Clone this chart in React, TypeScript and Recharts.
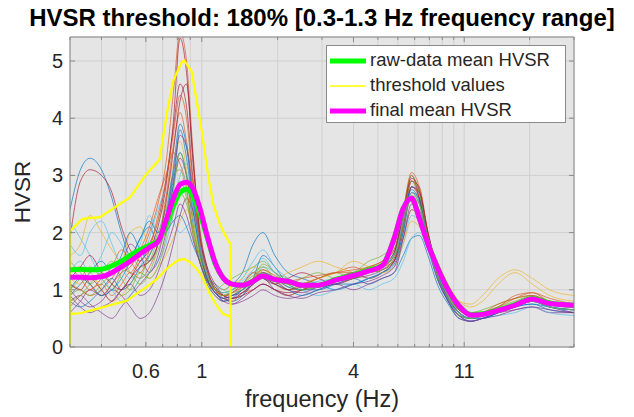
import React from 'react';
import { LineChart, Line, XAxis, YAxis, CartesianGrid, Legend } from 'recharts';

// ---------- data ----------
const FREQ = [0.3, 0.33, 0.36, 0.4, 0.44, 0.48, 0.52, 0.57, 0.62, 0.67, 0.72, 0.77, 0.82, 0.87, 0.92, 0.98, 1.05, 1.13, 1.22, 1.32, 1.45, 1.6, 1.75, 1.95, 2.2, 2.5, 2.9, 3.4, 4.0, 4.6, 5.2, 5.8, 6.3, 6.8, 7.3, 7.9, 8.6, 9.5, 10.5, 11.7, 13, 15, 17.5, 20.5, 24, 30];

const hvsr01 = [2.4, 3.1, 3.3, 3.1, 2.6, 2.0, 1.6, 1.9, 2.1, 1.8, 2.2, 2.9, 3.4, 3.0, 2.2, 1.5, 1.2, 1.1, 1.0, 1.1, 1.3, 1.8, 2.0, 1.6, 1.3, 1.2, 1.1, 1.0, 1.1, 1.2, 1.3, 1.5, 2.0, 2.8, 2.7, 2.0, 1.4, 1.0, 0.7, 0.55, 0.5, 0.6, 0.7, 0.8, 0.7, 0.65];
const hvsr02 = [1.9, 2.9, 3.1, 3.0, 2.7, 2.1, 1.7, 1.5, 1.8, 2.2, 2.9, 3.8, 4.6, 4.2, 3.0, 1.9, 1.3, 1.0, 0.9, 0.95, 1.1, 1.3, 1.2, 1.1, 1.2, 1.3, 1.2, 1.1, 1.2, 1.3, 1.4, 1.6, 2.3, 3.0, 2.6, 1.8, 1.3, 0.9, 0.6, 0.5, 0.55, 0.65, 0.75, 0.85, 0.8, 0.7];
const hvsr03 = [1.1, 1.0, 0.9, 1.0, 1.2, 1.4, 1.3, 1.6, 2.0, 2.5, 3.2, 4.4, 5.5, 5.0, 3.5, 2.0, 1.2, 0.9, 0.8, 0.9, 1.0, 1.2, 1.3, 1.2, 1.0, 1.1, 1.2, 1.3, 1.4, 1.3, 1.4, 1.5, 2.2, 2.9, 2.8, 2.0, 1.4, 1.0, 0.65, 0.55, 0.6, 0.7, 0.9, 0.95, 0.8, 0.75];
const hvsr04 = [1.6, 1.8, 2.3, 2.0, 1.7, 1.5, 2.0, 2.1, 1.8, 2.2, 2.6, 3.2, 3.6, 3.1, 2.3, 1.6, 1.2, 1.0, 0.9, 1.0, 1.1, 1.2, 1.3, 1.2, 1.3, 1.4, 1.5, 1.4, 1.3, 1.2, 1.3, 1.5, 1.9, 2.4, 2.3, 1.9, 1.5, 1.1, 0.8, 0.7, 0.8, 1.1, 1.3, 1.1, 0.9, 0.8];
const hvsr05 = [0.8, 0.9, 0.75, 0.6, 0.5, 0.7, 0.9, 1.1, 1.3, 1.5, 2.0, 2.8, 3.3, 3.0, 2.4, 1.8, 1.3, 1.0, 0.8, 0.85, 0.9, 1.1, 1.2, 1.0, 0.9, 1.0, 1.1, 1.2, 1.3, 1.2, 1.3, 1.5, 2.2, 2.9, 2.7, 1.9, 1.3, 0.8, 0.55, 0.45, 0.5, 0.6, 0.7, 0.8, 0.7, 0.65];
const hvsr06 = [1.0, 1.2, 1.4, 1.2, 1.0, 1.3, 1.6, 1.4, 1.5, 1.9, 2.1, 2.5, 2.7, 2.5, 2.1, 1.6, 1.2, 1.0, 1.1, 1.2, 1.3, 1.4, 1.5, 1.3, 1.2, 1.1, 1.2, 1.3, 1.2, 1.3, 1.4, 1.6, 2.1, 2.6, 2.5, 1.8, 1.3, 0.9, 0.65, 0.6, 0.65, 0.75, 0.85, 0.9, 0.75, 0.7];
const hvsr07 = [1.3, 1.5, 1.3, 1.6, 2.0, 1.8, 1.5, 1.8, 2.3, 2.0, 2.4, 2.2, 2.0, 2.1, 2.2, 1.8, 1.3, 1.1, 1.0, 0.9, 1.0, 1.1, 1.4, 1.3, 1.1, 1.0, 1.1, 1.0, 1.1, 1.2, 1.3, 1.4, 1.8, 2.3, 2.2, 1.7, 1.2, 0.8, 0.6, 0.5, 0.55, 0.65, 0.75, 0.8, 0.7, 0.6];
const hvsr08 = [0.9, 1.1, 1.3, 1.5, 1.3, 1.6, 2.0, 1.7, 1.5, 1.8, 2.3, 2.8, 3.8, 3.3, 2.5, 1.7, 1.2, 0.95, 0.85, 0.8, 0.9, 1.2, 1.6, 1.4, 1.1, 1.0, 1.0, 1.1, 1.2, 1.1, 1.2, 1.3, 1.6, 1.9, 1.95, 1.6, 1.1, 0.75, 0.5, 0.45, 0.5, 0.6, 0.7, 0.75, 0.65, 0.6];
const hvsr09 = [0.7, 0.9, 1.0, 1.1, 0.9, 1.1, 1.3, 1.2, 1.4, 1.8, 2.6, 3.5, 4.1, 3.6, 2.8, 1.9, 1.3, 1.0, 0.85, 0.8, 0.95, 1.0, 1.1, 1.0, 0.9, 1.0, 1.1, 1.2, 1.3, 1.4, 1.5, 1.7, 2.3, 2.9, 2.6, 1.9, 1.3, 0.9, 0.6, 0.5, 0.55, 0.6, 0.7, 0.8, 0.75, 0.7];
const hvsr10 = [1.2, 1.1, 1.3, 1.0, 0.8, 0.9, 1.1, 1.3, 1.2, 1.4, 1.6, 1.9, 2.2, 2.4, 2.1, 1.7, 1.3, 1.1, 1.0, 1.1, 1.2, 1.4, 1.3, 1.1, 1.0, 1.1, 1.2, 1.3, 1.5, 1.4, 1.3, 1.4, 1.8, 2.2, 2.1, 1.8, 1.4, 1.0, 0.8, 0.75, 0.9, 1.2, 1.35, 1.2, 1.0, 0.9];
const hvsr11 = [1.0, 0.8, 0.7, 0.8, 1.0, 0.9, 0.7, 0.5, 0.6, 0.9, 1.3, 1.8, 2.3, 2.6, 2.4, 1.9, 1.4, 1.1, 0.9, 0.75, 0.8, 0.9, 1.0, 0.9, 0.85, 0.9, 1.0, 1.1, 1.0, 1.1, 1.2, 1.3, 1.9, 2.5, 2.4, 1.8, 1.2, 0.8, 0.55, 0.5, 0.55, 0.6, 0.65, 0.7, 0.6, 0.6];
const hvsr12 = [1.5, 1.3, 1.1, 1.3, 1.5, 1.2, 1.0, 1.2, 1.6, 2.0, 2.4, 3.0, 3.1, 2.7, 2.1, 1.6, 1.2, 1.0, 0.95, 1.0, 1.1, 1.3, 1.4, 1.2, 1.1, 1.2, 1.3, 1.2, 1.3, 1.5, 1.6, 1.8, 2.4, 3.0, 2.7, 1.9, 1.3, 0.9, 0.6, 0.5, 0.6, 0.7, 0.8, 0.9, 0.8, 0.7];
const hvsr13 = [2.2, 1.9, 1.6, 1.2, 1.0, 0.8, 0.9, 1.2, 1.3, 1.5, 1.8, 2.4, 3.0, 3.2, 2.6, 1.9, 1.3, 1.0, 0.9, 1.0, 1.2, 1.5, 1.7, 1.4, 1.2, 1.0, 0.9, 1.0, 1.1, 1.0, 1.1, 1.2, 1.5, 1.9, 2.0, 1.7, 1.2, 0.8, 0.55, 0.45, 0.5, 0.55, 0.6, 0.7, 0.6, 0.55];
const hvsr14 = [1.1, 1.0, 1.2, 1.0, 0.8, 1.0, 1.2, 1.5, 1.7, 2.1, 2.8, 3.9, 5.4, 4.8, 3.4, 2.1, 1.4, 1.0, 0.9, 0.85, 0.9, 1.0, 1.1, 1.0, 0.95, 1.0, 1.1, 1.15, 1.2, 1.3, 1.35, 1.5, 2.1, 2.8, 2.6, 1.9, 1.3, 0.85, 0.6, 0.5, 0.55, 0.65, 0.75, 0.85, 0.75, 0.7];
const hvsr15 = [0.8, 0.7, 0.8, 1.0, 1.2, 1.0, 1.1, 1.4, 1.6, 1.9, 2.0, 2.2, 2.3, 2.1, 1.8, 1.5, 1.1, 0.9, 0.8, 0.85, 1.0, 1.15, 1.2, 1.1, 1.0, 0.9, 1.0, 1.1, 1.1, 1.2, 1.3, 1.45, 2.0, 2.7, 2.6, 1.9, 1.25, 0.8, 0.55, 0.5, 0.55, 0.6, 0.7, 0.75, 0.7, 0.65];
const hvsr16 = [1.3, 1.4, 1.1, 0.9, 1.1, 1.3, 1.4, 1.7, 2.1, 2.6, 3.0, 3.4, 3.2, 2.8, 2.0, 1.5, 1.15, 1.0, 0.9, 0.9, 1.05, 1.2, 1.3, 1.2, 1.1, 1.1, 1.2, 1.3, 1.3, 1.35, 1.4, 1.6, 2.2, 2.7, 2.5, 1.85, 1.3, 0.9, 0.65, 0.55, 0.6, 0.75, 0.85, 0.9, 0.8, 0.75];
const hvsr17 = [0.6, 0.8, 1.0, 0.9, 1.1, 1.4, 1.8, 1.6, 1.3, 1.6, 2.2, 3.0, 3.7, 3.5, 2.7, 1.8, 1.2, 0.95, 0.85, 0.9, 0.95, 1.1, 1.25, 1.15, 1.0, 0.95, 1.05, 1.1, 1.2, 1.25, 1.35, 1.55, 2.1, 2.8, 2.7, 1.95, 1.3, 0.85, 0.55, 0.45, 0.5, 0.6, 0.7, 0.8, 0.7, 0.6];
const hvsr18 = [0.9, 1.0, 0.9, 1.1, 1.3, 1.5, 1.3, 1.1, 1.3, 1.7, 2.0, 2.3, 2.9, 2.6, 2.0, 1.5, 1.15, 1.0, 0.95, 1.0, 1.1, 1.25, 1.35, 1.2, 1.05, 1.0, 1.1, 1.2, 1.25, 1.3, 1.4, 1.6, 2.3, 2.9, 2.7, 1.9, 1.3, 0.9, 0.6, 0.5, 0.55, 0.65, 0.75, 0.85, 0.75, 0.7];
const hvsr19 = [1.0, 1.2, 1.1, 0.9, 1.0, 1.2, 1.5, 1.9, 2.2, 2.0, 2.3, 3.1, 3.9, 3.5, 2.6, 1.7, 1.2, 0.95, 0.85, 0.9, 1.0, 1.15, 1.3, 1.2, 1.05, 1.0, 1.05, 1.15, 1.25, 1.3, 1.4, 1.65, 2.3, 2.75, 2.55, 1.85, 1.3, 0.85, 0.6, 0.5, 0.5, 0.6, 0.7, 0.8, 0.7, 0.65];
const hvsr20 = [1.4, 1.2, 1.0, 1.2, 1.4, 1.7, 1.5, 1.3, 1.7, 2.3, 2.9, 3.7, 4.4, 4.0, 2.9, 1.9, 1.3, 1.0, 0.9, 0.95, 1.05, 1.2, 1.35, 1.25, 1.15, 1.2, 1.25, 1.3, 1.35, 1.4, 1.5, 1.7, 2.4, 3.05, 2.8, 2.0, 1.35, 0.95, 0.65, 0.55, 0.6, 0.7, 0.85, 0.95, 0.85, 0.75];
const hvsr21 = [0.9, 0.7, 0.6, 0.7, 0.8, 1.0, 1.1, 0.9, 1.0, 1.3, 1.7, 2.1, 2.5, 2.3, 1.9, 1.5, 1.15, 0.95, 0.8, 0.75, 0.85, 1.0, 1.1, 1.0, 0.9, 0.85, 0.95, 1.0, 1.1, 1.15, 1.25, 1.4, 1.9, 2.4, 2.3, 1.75, 1.2, 0.8, 0.5, 0.45, 0.5, 0.55, 0.65, 0.7, 0.65, 0.6];
const hvsr22 = [1.8, 1.6, 2.0, 2.2, 1.8, 1.4, 1.2, 1.4, 1.9, 2.4, 2.7, 2.6, 2.8, 3.0, 2.5, 1.8, 1.3, 1.05, 0.95, 1.0, 1.15, 1.35, 1.55, 1.3, 1.15, 1.1, 1.15, 1.2, 1.3, 1.35, 1.45, 1.6, 2.2, 2.7, 2.5, 1.85, 1.3, 0.9, 0.6, 0.5, 0.55, 0.65, 0.75, 0.8, 0.7, 0.65];
const hvsr23 = [1.2, 1.4, 1.6, 1.3, 1.1, 1.0, 1.2, 1.4, 1.5, 1.8, 2.5, 3.4, 4.3, 4.6, 3.3, 2.0, 1.35, 1.05, 0.9, 0.85, 0.95, 1.1, 1.2, 1.1, 1.0, 1.05, 1.1, 1.2, 1.3, 1.35, 1.45, 1.65, 2.35, 2.95, 2.75, 2.0, 1.4, 0.95, 0.65, 0.55, 0.55, 0.65, 0.75, 0.85, 0.75, 0.7];
const hvsr24 = [0.8, 0.9, 1.1, 1.3, 1.1, 0.9, 1.0, 1.3, 1.2, 1.4, 1.9, 2.7, 3.4, 3.0, 2.3, 1.7, 1.25, 1.0, 0.9, 0.95, 1.0, 1.2, 1.45, 1.3, 1.1, 1.0, 1.05, 1.15, 1.2, 1.3, 1.35, 1.55, 2.1, 2.65, 2.5, 1.8, 1.25, 0.85, 0.55, 0.5, 0.55, 0.6, 0.7, 0.8, 0.7, 0.65];

const HVSR_CURVES = [hvsr01, hvsr02, hvsr03, hvsr04, hvsr05, hvsr06, hvsr07, hvsr08, hvsr09, hvsr10, hvsr11, hvsr12, hvsr13, hvsr14, hvsr15, hvsr16, hvsr17, hvsr18, hvsr19, hvsr20, hvsr21, hvsr22, hvsr23, hvsr24];
const CURVE_COLORS = ['#0072BD', '#A2142F', '#D95319', '#EDB120', '#7E2F8E', '#77AC30', '#4DBEEE', '#0072BD', '#D95319', '#EDB120', '#7E2F8E', '#77AC30', '#4DBEEE', '#A2142F', '#0072BD', '#D95319', '#7E2F8E', '#77AC30', '#0072BD', '#D95319', '#7E2F8E', '#4DBEEE', '#A2142F', '#77AC30'];

const RAW_MEAN = [1.35, 1.36, 1.35, 1.36, 1.42, 1.5, 1.6, 1.7, 1.78, 1.86, 2.12, 2.45, 2.7, 2.76, 2.65, 2.35, 1.92, 1.46, 1.2, 1.1, 1.08, 1.15, 1.24, 1.18, 1.15, 1.08, 1.08, 1.18, 1.26, 1.35, 1.43, 1.9, 2.42, 2.6, 2.25, 1.8, 1.4, 1.0, 0.72, 0.57, 0.58, 0.65, 0.74, 0.85, 0.77, 0.73];
const FINAL_MEAN = [1.22, 1.22, 1.21, 1.23, 1.3, 1.4, 1.5, 1.63, 1.74, 1.84, 2.2, 2.58, 2.84, 2.88, 2.78, 2.45, 1.95, 1.48, 1.2, 1.1, 1.08, 1.15, 1.24, 1.18, 1.15, 1.08, 1.08, 1.17, 1.25, 1.33, 1.42, 1.9, 2.42, 2.6, 2.25, 1.8, 1.4, 1.0, 0.72, 0.56, 0.57, 0.64, 0.73, 0.84, 0.76, 0.73];

const THR_UP_FREQ = [0.3, 0.3, 0.336, 0.395, 0.43, 0.52, 0.59, 0.62, 0.68, 0.726, 0.77, 0.83, 0.85, 0.91, 0.95, 1.0, 1.06, 1.11, 1.18, 1.25, 1.3, 1.3];
const THR_UP = [0, 2.03, 2.24, 2.27, 2.38, 2.62, 2.97, 3.08, 3.28, 4.07, 4.65, 4.97, 5.01, 4.83, 4.36, 3.77, 3.0, 2.5, 2.15, 1.92, 1.8, 0];
const THR_LO_FREQ = [0.3, 0.328, 0.371, 0.432, 0.504, 0.55, 0.605, 0.664, 0.705, 0.748, 0.806, 0.85, 0.9, 0.955, 1.014, 1.077, 1.143, 1.214, 1.3, 1.3];
const THR_LO = [0.58, 0.59, 0.65, 0.73, 0.81, 0.93, 1.05, 1.19, 1.31, 1.42, 1.52, 1.54, 1.48, 1.37, 1.19, 0.93, 0.73, 0.58, 0.53, 0];

const X_MAJOR = [0.6, 1, 4, 11];
const X_MINOR = [0.3, 0.4, 0.5, 0.7, 0.8, 0.9, 2, 3, 5, 6, 7, 8, 9, 10, 20, 30];
const X_TICKS = [...X_MINOR, ...X_MAJOR].sort((a, b) => a - b);
const Y_TICKS = [0, 1, 2, 3, 4, 5];
const X_DOMAIN = [0.3, 30];
const Y_DOMAIN = [0, 5.42];

const TITLE = 'HVSR threshold: 180% [0.3-1.3 Hz frequency range]';
const X_LABEL = 'frequency (Hz)';
const Y_LABEL = 'HVSR';
const LEGEND_LABELS = ['raw-data mean HVSR', 'threshold values', 'final mean HVSR'];
const LEGEND_COLORS = ['#00FF00', '#FFFF00', '#FF00FF'];
const LEGEND_WIDTHS = [5, 1.6, 5];

// ---------- styles ----------
const FONT = '"Liberation Sans", Arial, Helvetica, sans-serif';
const AXIS_COLOR = '#8a8a8a';
const TEXT_COLOR = '#262626';
const BG = '#e5e5e5';
const GRID = '#d0d0d0';

const toPts = (xs: number[], ys: number[]) => xs.map((f, i) => ({ f, v: ys[i] }));

function BottomTick(props: any) {
  const { x, y, payload } = props;
  const major = X_MAJOR.indexOf(payload.value) >= 0;
  return (
    <g>
      <line x1={x} x2={x} y1={y} y2={y - (major ? 5 : 3)} stroke={AXIS_COLOR} />
      {major && (
        <text x={x} y={y + 31} textAnchor="middle" fontSize={20} fill={TEXT_COLOR} fontFamily={FONT}>
          {String(payload.value)}
        </text>
      )}
    </g>
  );
}
function TopTick(props: any) {
  const { x, y, payload } = props;
  const major = X_MAJOR.indexOf(payload.value) >= 0;
  return <line x1={x} x2={x} y1={y} y2={y + (major ? 5 : 3)} stroke={AXIS_COLOR} />;
}
function LeftTick(props: any) {
  const { x, y, payload } = props;
  return (
    <g>
      <line x1={x} x2={x + 5} y1={y} y2={y} stroke={AXIS_COLOR} />
      <text x={x - 7} y={y + 7} textAnchor="end" fontSize={20} fill={TEXT_COLOR} fontFamily={FONT}>
        {String(payload.value)}
      </text>
    </g>
  );
}
function RightTick(props: any) {
  const { x, y } = props;
  return <line x1={x} x2={x - 5} y1={y} y2={y} stroke={AXIS_COLOR} />;
}

function TitleLabel(props: any) {
  const vb = props.viewBox;
  return (
    <text x={vb.x + vb.width / 2} y={vb.y + vb.height - 11} textAnchor="middle" fontSize={24} fontWeight="bold" fill="#000" fontFamily={FONT}>
      {TITLE}
    </text>
  );
}
function XLabel(props: any) {
  const vb = props.viewBox;
  return (
    <text x={vb.x + vb.width / 2} y={vb.y + 60} textAnchor="middle" fontSize={23.5} fill={TEXT_COLOR} fontFamily={FONT}>
      {X_LABEL}
    </text>
  );
}
function YLabel(props: any) {
  const vb = props.viewBox;
  const cx = vb.x + 30;
  const cy = vb.y + vb.height / 2;
  return (
    <text x={cx} y={cy} textAnchor="middle" fontSize={22.5} fill={TEXT_COLOR} fontFamily={FONT} transform={`rotate(-90, ${cx}, ${cy})`}>
      {Y_LABEL}
    </text>
  );
}

function LegendBox() {
  return (
    <div style={{ width: 240, height: 78, boxSizing: 'border-box', border: `1px solid ${AXIS_COLOR}`, background: '#fff', paddingTop: 2 }}>
      {LEGEND_LABELS.map((label, i) => (
        <div key={label} style={{ display: 'flex', alignItems: 'center', height: 25 }}>
          <svg width={43} height={10} style={{ flex: 'none' }}>
            <line x1={3} x2={39} y1={5} y2={5} stroke={LEGEND_COLORS[i]} strokeWidth={LEGEND_WIDTHS[i]} />
          </svg>
          <span style={{ fontFamily: FONT, fontSize: 18.5, color: TEXT_COLOR, lineHeight: 1, whiteSpace: 'nowrap' }}>{label}</span>
        </div>
      ))}
    </div>
  );
}

export default function App() {
  return (
    <div style={{ position: 'absolute', left: 0, top: 0, width: 634, height: 417, background: '#fff' }}>
      <LineChart width={634} height={417} margin={{ top: 7, right: 0, bottom: 0, left: 0 }}>
        <CartesianGrid fill={BG} stroke={GRID} strokeWidth={1} />
        <XAxis
          dataKey="f"
          type="number"
          scale="log"
          domain={X_DOMAIN}
          allowDataOverflow
          ticks={X_TICKS}
          interval={0}
          height={70}
          tickLine={false}
          tickSize={0}
          tickMargin={0}
          tick={<BottomTick />}
          axisLine={{ stroke: AXIS_COLOR }}
          label={<XLabel />}
        />
        <XAxis
          xAxisId="top"
          orientation="top"
          dataKey="f"
          type="number"
          scale="log"
          domain={X_DOMAIN}
          allowDataOverflow
          ticks={X_TICKS}
          interval={0}
          height={30}
          tickLine={false}
          tickSize={0}
          tickMargin={0}
          tick={<TopTick />}
          axisLine={{ stroke: AXIS_COLOR }}
          label={<TitleLabel />}
        />
        <YAxis
          type="number"
          domain={Y_DOMAIN}
          allowDataOverflow
          ticks={Y_TICKS}
          interval={0}
          width={70}
          tickLine={false}
          tickSize={0}
          tickMargin={0}
          tick={<LeftTick />}
          axisLine={{ stroke: AXIS_COLOR }}
          label={<YLabel />}
        />
        <YAxis
          yAxisId="right"
          orientation="right"
          type="number"
          domain={Y_DOMAIN}
          allowDataOverflow
          ticks={Y_TICKS}
          interval={0}
          width={60}
          tickLine={false}
          tickSize={0}
          tickMargin={0}
          tick={<RightTick />}
          axisLine={{ stroke: AXIS_COLOR }}
        />
        {HVSR_CURVES.map((c, i) => (
          <Line
            key={'c' + i}
            data={toPts(FREQ, c)}
            dataKey="v"
            type="monotone"
            stroke={CURVE_COLORS[i]}
            strokeOpacity={0.65}
            strokeWidth={1}
            dot={false}
            isAnimationActive={false}
            legendType="none"
          />
        ))}
        <Line data={toPts(THR_UP_FREQ, THR_UP)} dataKey="v" type="linear" stroke="#FFFF00" strokeWidth={2.2} dot={false} isAnimationActive={false} legendType="none" />
        <Line data={toPts(THR_LO_FREQ, THR_LO)} dataKey="v" type="linear" stroke="#FFFF00" strokeWidth={2.2} dot={false} isAnimationActive={false} legendType="none" />
        <Line data={toPts(FREQ, RAW_MEAN)} dataKey="v" type="monotone" stroke="#00FF00" strokeWidth={5} dot={false} isAnimationActive={false} legendType="none" />
        <Line data={toPts(FREQ, FINAL_MEAN)} dataKey="v" type="monotone" stroke="#FF00FF" strokeWidth={5} dot={false} isAnimationActive={false} legendType="none" />
        <Legend
          layout="vertical"
          align="center"
          verticalAlign="middle"
          content={<LegendBox />}
          wrapperStyle={{ left: 326, top: 45, width: 240, height: 78 }}
        />
      </LineChart>
    </div>
  );
}
